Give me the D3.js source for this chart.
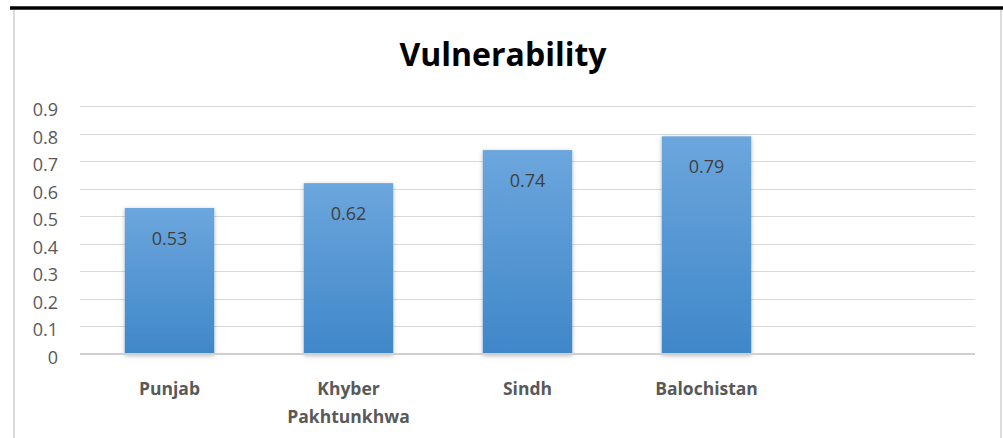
<!DOCTYPE html>
<html>
<head>
  <meta charset="utf-8">
  <script src="https://d3js.org/d3.v7.min.js"></script>
  <style>
    body { margin: 0; background: #fff; }
    svg { display: block; }
    .tick-label { font: 18px 'Open Sans', sans-serif; fill: #595959; }
    .value-label { font: 18px 'Open Sans', sans-serif; fill: #404040; }
    .cat-label { font: bold 17.5px 'Open Sans', sans-serif; fill: #595959; }
  </style>
</head>
<body>
<div id="chart"></div>
<script>
  var categories = ['Punjab', 'Khyber Pakhtunkhwa', 'Sindh', 'Balochistan'];
  var values = [0.53, 0.62, 0.74, 0.79];
  var yTicks = [0, 0.1, 0.2, 0.3, 0.4, 0.5, 0.6, 0.7, 0.8, 0.9];
  var labelLines = [['Punjab'], ['Khyber', 'Pakhtunkhwa'], ['Sindh'], ['Balochistan']];

  var width = 1003,
    height = 438;

  var svg = d3.select('#chart')
    .append('svg')
    .attr('width', width)
    .attr('height', height);

  var defs = svg.append('defs');
  var grad = defs.append('linearGradient')
    .attr('id', 'barGrad')
    .attr('x1', 0).attr('y1', 0).attr('x2', 0).attr('y2', 1);
  grad.append('stop').attr('offset', '0%').attr('stop-color', '#6ca6dd');
  grad.append('stop').attr('offset', '100%').attr('stop-color', '#3f87c9');

  var shadow = defs.append('filter')
    .attr('id', 'shadow')
    .attr('x', '-20%').attr('y', '-10%').attr('width', '140%').attr('height', '120%');
  shadow.append('feDropShadow')
    .attr('dx', 0).attr('dy', 1)
    .attr('stdDeviation', 2)
    .attr('flood-color', '#000')
    .attr('flood-opacity', 0.25);

  // frame: black rule on top, grey sides
  svg.append('line')
    .attr('x1', 10).attr('x2', width).attr('y1', 8).attr('y2', 8)
    .attr('stroke', '#000').attr('stroke-width', 3.5);
  svg.append('line')
    .attr('x1', 14).attr('x2', 14).attr('y1', 10).attr('y2', height)
    .attr('stroke', '#d0d0d0').attr('stroke-width', 1.5);
  svg.append('line')
    .attr('x1', 1001).attr('x2', 1001).attr('y1', 10).attr('y2', height)
    .attr('stroke', '#d0d0d0').attr('stroke-width', 1.5);

  svg.append('text')
    .attr('x', 503)
    .attr('y', 66)
    .attr('text-anchor', 'middle')
    .style('font', "bold 32px 'Open Sans', sans-serif")
    .style('fill', '#000')
    .text('Vulnerability');

  var x = d3.scaleBand()
    .domain(categories.concat(['']))
    .range([80, 975])
    .paddingInner(0.5)
    .paddingOuter(0.25);

  var y = d3.scaleLinear()
    .domain([0, 0.9])
    .range([354, 106]);

  // gridlines
  svg.append('g')
    .selectAll('line')
    .data(yTicks.filter(function(d) { return d > 0; }))
    .enter()
    .append('line')
    .attr('x1', 80).attr('x2', 975)
    .attr('y1', function(d) { return Math.round(y(d)) + 0.5; })
    .attr('y2', function(d) { return Math.round(y(d)) + 0.5; })
    .attr('stroke', '#d9d9d9')
    .attr('stroke-width', 1);

  svg.append('g')
    .selectAll('text')
    .data(yTicks)
    .enter()
    .append('text')
    .attr('class', 'tick-label')
    .attr('x', 58)
    .attr('y', function(d) { return y(d) + 10; })
    .attr('text-anchor', 'end')
    .text(function(d) { return d === 0 ? '0' : d3.format('.1f')(d); });

  // bars
  svg.append('g')
    .selectAll('rect')
    .data(values)
    .enter()
    .append('rect')
    .attr('x', function(d, i) { return x(categories[i]); })
    .attr('y', function(d) { return y(d); })
    .attr('width', x.bandwidth())
    .attr('height', function(d) { return y(0) - y(d) + 1; })
    .attr('fill', 'url(#barGrad)')
    .attr('filter', 'url(#shadow)');

  // axis line
  svg.append('line')
    .attr('x1', 80).attr('x2', 975)
    .attr('y1', y(0)).attr('y2', y(0))
    .attr('stroke', '#d0d0d0')
    .attr('stroke-width', 2);

  svg.append('g')
    .selectAll('text')
    .data(values)
    .enter()
    .append('text')
    .attr('class', 'value-label')
    .attr('x', function(d, i) { return x(categories[i]) + x.bandwidth() / 2; })
    .attr('y', function(d) { return y(d) + 37; })
    .attr('text-anchor', 'middle')
    .text(function(d) { return d3.format('.2f')(d); });

  // category labels, wrapped like the original
  var cat = svg.append('g')
    .selectAll('text')
    .data(categories)
    .enter()
    .append('text')
    .attr('class', 'cat-label')
    .attr('text-anchor', 'middle')
    .attr('y', 395);

  cat.selectAll('tspan')
    .data(function(d, i) { return labelLines[i]; })
    .enter()
    .append('tspan')
    .attr('x', function() {
      var c = d3.select(this.parentNode).datum();
      return x(c) + x.bandwidth() / 2;
    })
    .attr('dy', function(d, j) { return j === 0 ? 0 : 28; })
    .text(function(d) { return d; });
</script>
</body>
</html>
